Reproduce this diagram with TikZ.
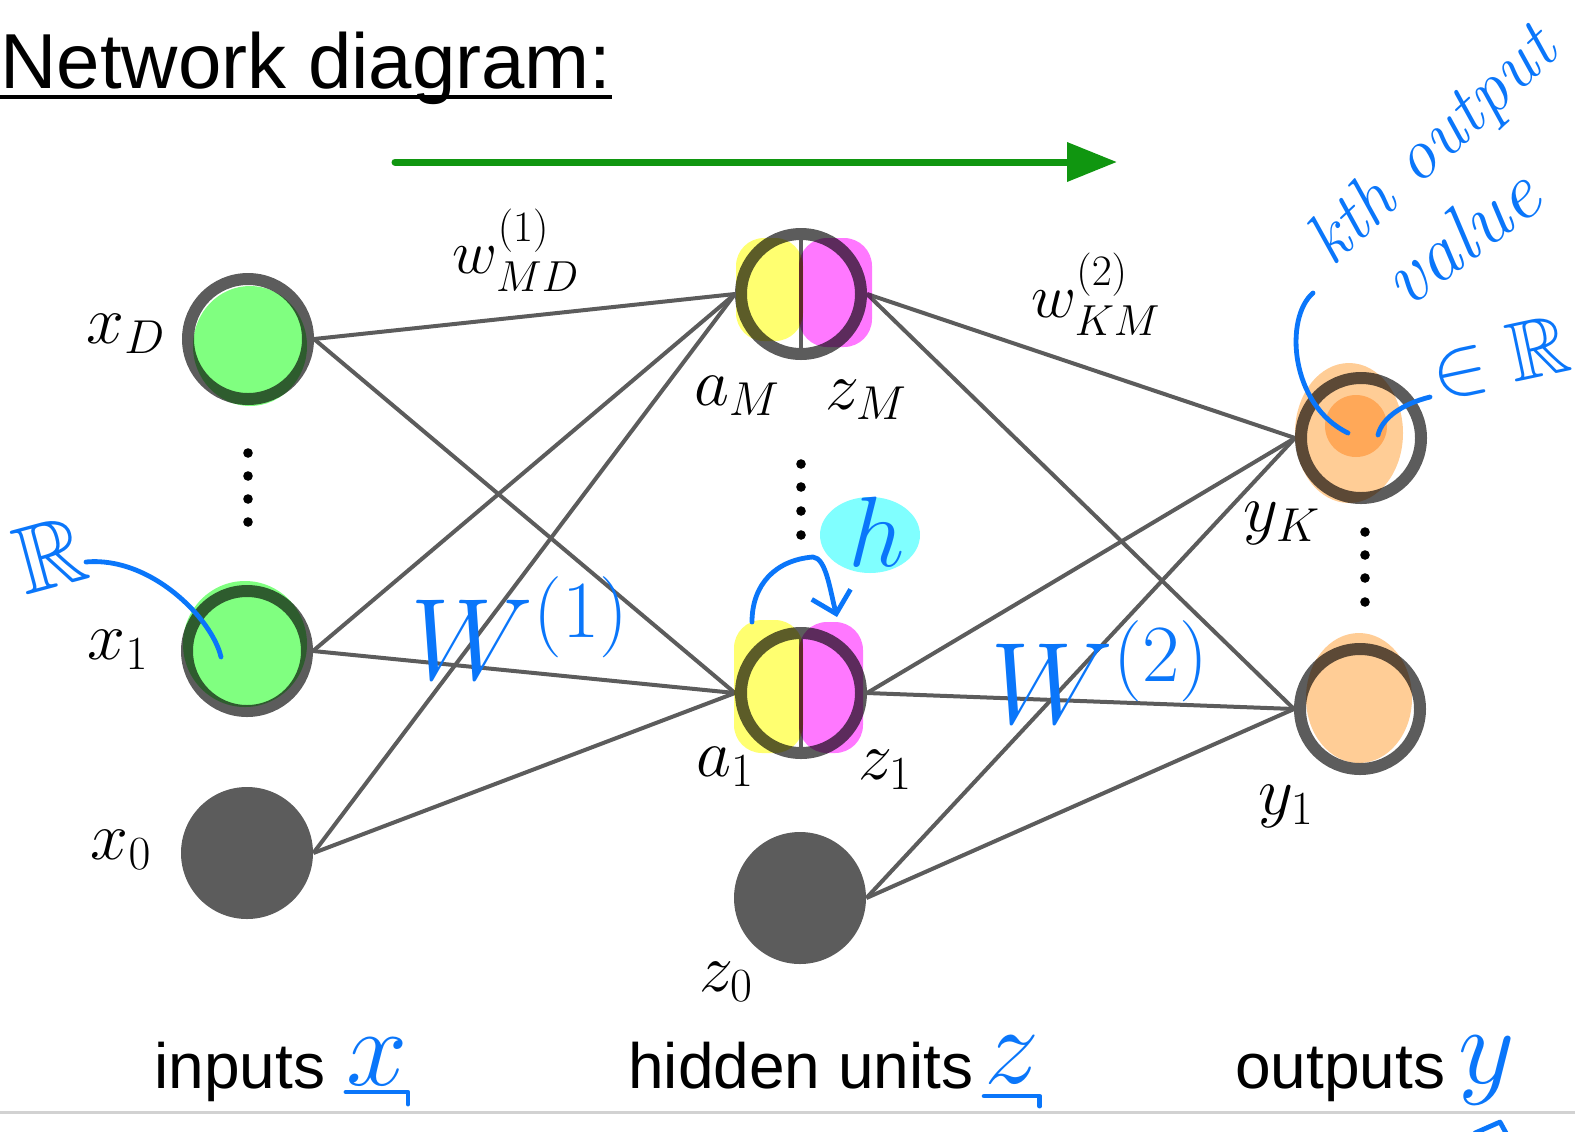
\RequirePackage{fix-cm}
\documentclass[tikz,border=0pt]{standalone}
\usepackage{amsmath,amssymb}
\usepackage{fontspec}
\newfontfamily\helv{Liberation Sans}
\usetikzlibrary{arrows.meta, backgrounds}
\definecolor{ringgray}{RGB}{92,92,92}
\definecolor{flowgreen}{RGB}{16,150,16}
\definecolor{inkblue}{RGB}{10,118,250}
\definecolor{hlgreen}{RGB}{128,255,128}
\definecolor{hlyellow}{RGB}{255,255,112}
\definecolor{hlmagenta}{RGB}{255,120,255}
\definecolor{hlorange}{RGB}{255,205,150}
\definecolor{hldeep}{RGB}{255,209,150}
\definecolor{hlcyan}{RGB}{128,255,255}
\tikzset{
  unit/.style={circle, draw=ringgray, line width=6pt, minimum size=60pt, inner sep=0pt},
  bias/.style={circle, fill=ringgray, minimum size=66pt, inner sep=0pt},
  weight/.style={draw=ringgray, line width=2pt},
  lbl/.style={font=\fontsize{34}{40}\selectfont, inner sep=0pt},
  wlbl/.style={font=\fontsize{31}{37}\selectfont, inner sep=0pt},
  heading/.style={font=\helv\fontsize{39}{47}\selectfont, inner sep=0pt, anchor=base west},
  caption/.style={font=\helv\fontsize{32}{38}\selectfont, inner sep=0pt, anchor=base west},
  flow/.style={draw=flowgreen, line width=3.5pt, line cap=round, -{Triangle[length=25pt, width=19pt]}},
  ink/.style={text=inkblue, inner sep=0pt},
  pen/.style={draw=inkblue, line width=2.4pt, line cap=round, line join=round}
}
\begin{document}
\begin{tikzpicture}[x=0.5pt, y=-0.5pt]
  \useasboundingbox (0,0) rectangle (1575,1131);

  \node[heading] (title) at (0,88) {Network diagram:};
  \draw[line width=1.6pt] ([yshift=-4.5pt]title.base west) -- ([yshift=-4.5pt]title.base east);
  \coordinate (flowstart) at (395,162);
  \coordinate (flowend) at (1117,162);
  \draw[flow] (flowstart) -- (flowend);

  % units
  \node[unit] (xD) at (248,339) {};
  \node[unit] (x1) at (247,651) {};
  \node[bias] (x0) at (247,853) {};
  \node[unit] (aM) at (801,294) {};
  \node[unit] (a1) at (801,693) {};
  \node[bias] (z0) at (800,898) {};
  \node[unit] (yK) at (1361,438) {};
  \node[unit] (y1) at (1360,709) {};
  \draw[ringgray, line width=2pt] (aM.north) -- (aM.south);
  \draw[ringgray, line width=2pt] (a1.north) -- (a1.south);

  % weights
  \begin{scope}[on background layer]
    \foreach \i in {xD,x1,x0}
      \foreach \h in {aM,a1}
        \draw[weight] (\i.east) -- (\h.west);
    \foreach \h in {aM,a1,z0}
      \foreach \o in {yK,y1}
        \draw[weight] (\h.east) -- (\o.west);
  \end{scope}

  % highlighter
  \begin{scope}[blend mode=multiply]
    \fill[hlgreen] (250,346) ellipse (28.5pt and 30pt);
    \fill[hlgreen] (245,644) ellipse (31pt and 31.5pt);
    \fill[hlyellow, rounded corners=14pt] (736,238) rectangle (803,341);
    \fill[hlmagenta, rounded corners=14pt] (799,238) rectangle (872,347);
    \fill[hlyellow, rounded corners=14pt] (734,620) rectangle (803,753);
    \fill[hlmagenta, rounded corners=14pt] (799,622) rectangle (863,753);
    \fill[hlorange] (1349,433) ellipse (27pt and 35pt);
    \fill[hldeep] (1356,426) circle (15.5pt);
    \fill[hlorange] (1359,698) ellipse (26.5pt and 32.5pt);
    \fill[hlcyan] (870,535) ellipse (25pt and 19pt);
  \end{scope}

  % dots
  \foreach \y in {453,476,499,522} \fill (248,\y) circle (2.4pt);
  \foreach \y in {464,487,511,535} \fill (801,\y) circle (2.4pt);
  \foreach \y in {532,555,578,602} \fill (1365,\y) circle (2.4pt);

  % labels
  \node[lbl] (xDlbl) at (126,334) {$x_D$};
  \node[lbl] (x1lbl) at (118,650) {$x_1$};
  \node[lbl] (x0lbl) at (121,850) {$x_0$};
  \node[lbl] (aMlbl) at (737,396) {$a_M$};
  \node[lbl] (zMlbl) at (866,400) {$z_M$};
  \node[lbl] (a1lbl) at (725,767) {$a_1$};
  \node[lbl] (z1lbl) at (885,770) {$z_1$};
  \node[lbl] (z0lbl) at (726,982) {$z_0$};
  \node[lbl] (yKlbl) at (1282,523) {$y_K$};
  \node[lbl] (y1lbl) at (1286,806) {$y_1$};
  \node[wlbl] (w1lbl) at (516,250) {$w^{(1)}_{MD}$};
  \node[wlbl] (w2lbl) at (1096,294) {$w^{(2)}_{KM}$};

  \node[caption] (incap) at (154,1088) {inputs};
  \node[caption] (hidcap) at (628,1088) {hidden units};
  \node[caption] (outcap) at (1235,1088) {outputs};
  \draw[gray!35, line width=1.5pt] (0,1112) -- (1575,1112);

  % notes in pen
  \node[ink, rotate=43, font=\itshape\fontsize{36}{43}\selectfont] (kthnote) at (1434,148) {kth output};
  \node[ink, rotate=37, font=\itshape\fontsize{40}{48}\selectfont] (valuenote) at (1460,236) {value};
  \node[ink, rotate=12, font=\fontsize{42}{50}\selectfont] (realnote) at (1500,358) {$\in\mathbb{R}$};
  \node[ink, rotate=15, font=\fontsize{48}{58}\selectfont] (inreal) at (50,555) {$\mathbb{R}$};
  \node[ink, font=\fontsize{58}{70}\selectfont] (Wone) at (520,628) {$W^{(1)}$};
  \node[ink, font=\fontsize{58}{70}\selectfont] (Wtwo) at (1100,672) {$W^{(2)}$};
  \node[ink, font=\fontsize{50}{60}\selectfont] (hnote) at (877,532) {$h$};
  \node[ink, font=\fontsize{55}{66}\selectfont] (xvec) at (377,1062) {$x$};
  \node[ink, font=\fontsize{55}{66}\selectfont] (zvec) at (1012,1060) {$z$};
  \node[ink, font=\fontsize{55}{66}\selectfont] (yvec) at (1487,1070) {$y$};

  \coordinate (bracketTop) at (1313,293);
  \draw[pen] (bracketTop) .. controls (1284,318) and (1290,405) .. ([shift={(-13,-5)}]yK.center);
  \coordinate (realTail) at (1430,397);
  \draw[pen] (realTail) .. controls (1402,404) and (1382,418) .. ([shift={(17,-3)}]yK.center);
  \coordinate (inrealTail) at (86,562);
  \draw[pen] (inrealTail) .. controls (150,556) and (212,618) .. ([shift={(-26,6)}]x1.center);
  \draw[pen, -{Straight Barb[length=10pt, width=20pt]}] ([shift={(-49,-71)}]a1.center)
    .. controls (752,585) and (775,560) .. (813,557)
    .. controls (826,558) and (830,590) .. ([shift={(36,-76)}]a1.center);

  \draw[pen] ([yshift=-3pt]xvec.south west) -- ([yshift=-3pt]xvec.south east) -- ++(0,-6pt);
  \draw[pen] ([yshift=-6pt]zvec.south west) -- ([yshift=-6pt]zvec.south east) -- ++(0,-5pt);
  \draw[pen] (1475,1133) -- (1500,1122) -- (1506,1133);
\end{tikzpicture}
\end{document}
